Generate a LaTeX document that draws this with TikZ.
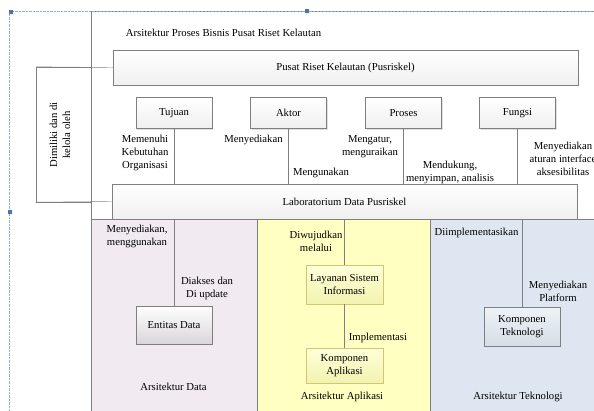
\documentclass[tikz,border=0pt]{standalone}
\usepackage{fontspec}
\setmainfont{Liberation Serif}
\usetikzlibrary{shadows}
\definecolor{linegray}{HTML}{7F7F7F}
\definecolor{datafill}{HTML}{F1EAF1}
\definecolor{appfill}{HTML}{FFFFC2}
\definecolor{techfill}{HTML}{DEE7F1}
\definecolor{handle}{HTML}{4F73AE}
\definecolor{guide}{HTML}{9AAFCB}

\begin{document}
\begin{tikzpicture}[x=1pt, y=-1pt, font=\fontsize{10.7}{13}\selectfont,
  box/.style={draw=linegray, top color=white, bottom color=gray!12, minimum width=76pt, minimum height=31pt, align=center,
    drop shadow={opacity=0.25, shadow xshift=1pt, shadow yshift=-1pt}},
  lbl/.style={align=center, inner sep=0pt},
  wire/.style={linegray}]
\useasboundingbox (0,0) rectangle (594,410);

% panels
\filldraw[linegray, fill=datafill] (91,219) rectangle (257,412);
\filldraw[linegray, fill=appfill] (257,219) rectangle (430,412);
\filldraw[linegray, fill=techfill] (430,219) rectangle (600,412);
\draw[wire] (91,11) -- (91,412) (91,11.5) -- (600,11.5);
\draw[guide, densely dotted] (9,11) -- (9,412) (9,11) -- (600,11);
\fill[handle] (9,10) rectangle (13,14) (305,9) rectangle (309,13) (8,210) rectangle (12,214);

\node[lbl] (title) at (223.5,33) {Arsitektur Proses Bisnis Pusat Riset Kelautan};
\node[box, minimum width=465pt, minimum height=35pt] (pusriskel) at (345.5,67.5) {Pusat Riset Kelautan (Pusriskel)};
\node[box, minimum width=465pt, minimum height=35pt] (lab) at (344.5,201.5) {Laboratorium Data Pusriskel};
\node[draw=linegray, fill=white, minimum width=55pt, minimum height=135pt, inner sep=0pt] (milik) at (63.5,134.5) {};
\node[rotate=90, lbl] (miliklbl) at (60,135) {Dimiliki dan di\\kelola oleh};
\draw[wire] (milik.north west) -- (pusriskel.west);
\draw[wire] (milik.south west) -- (lab.west);

\node[box] (tujuan) at (174,113) {Tujuan};
\node[box] (aktor) at (288.5,113) {Aktor};
\node[box] (proses) at (403.5,113) {Proses};
\node[box] (fungsi) at (517.5,113) {Fungsi};
\foreach \n in {tujuan, aktor, proses, fungsi}
  \draw[wire] (\n) -- (\n |- lab.north);

\node[lbl] (memenuhi) at (145,153) {Memenuhi\\Kebutuhan\\Organisasi};
\node[lbl] (menyediakan) at (253.5,140) {Menyediakan};
\node[lbl] (mengunakan) at (321,173) {Mengunakan};
\node[lbl] (mengatur) at (370,147) {Mengatur,\\menguraikan};
\node[lbl] (mendukung) at (450,172) {Mendukung,\\menyimpan, analisis};
\node[lbl] (aturan) at (563,159) {Menyediakan\\aturan interface\\aksesibilitas};

% arsitektur data
\node[box, bottom color=datafill!80!gray, minimum height=38pt] (entitas) at (174,325) {Entitas Data};
\draw[wire] (entitas) -- (entitas |- lab.south);
\node[lbl] (menggunakan) at (137,236) {Menyediakan,\\menggunakan};
\node[lbl] (diakses) at (207,288) {Diakses dan\\Di update};
\node[lbl] (ardata) at (173.5,387) {Arsitektur Data};

% arsitektur aplikasi
\node[box, draw=olive!45, top color=appfill!60, bottom color=appfill!90!olive, minimum width=77pt, minimum height=39pt] (layanan) at (344.5,284.5) {Layanan Sistem\\Informasi};
\node[box, draw=olive!45, top color=appfill!60, bottom color=appfill!90!olive, minimum width=77pt, minimum height=35pt] (kompapp) at (344.5,365.5) {Komponen\\Aplikasi};
\draw[wire] (layanan) -- (layanan |- lab.south);
\draw[wire] (layanan) -- (kompapp);
\node[lbl] (diwujudkan) at (316,241) {Diwujudkan\\melalui};
\node[lbl] (implementasi) at (378,338) {Implementasi};
\node[lbl] (arapp) at (342,397) {Arsitektur Aplikasi};

% arsitektur teknologi
\node[box, top color=techfill!50, bottom color=techfill!90!gray, minimum height=39pt] (komptek) at (522,326.5) {Komponen\\Teknologi};
\draw[wire] (komptek) -- (komptek |- lab.south);
\node[lbl] (diimpl) at (476.5,233) {Diimplementasikan};
\node[lbl] (platform) at (558,291) {Menyediakan\\Platform};
\node[lbl] (artek) at (518,397) {Arsitektur Teknologi};
\end{tikzpicture}
\end{document}
